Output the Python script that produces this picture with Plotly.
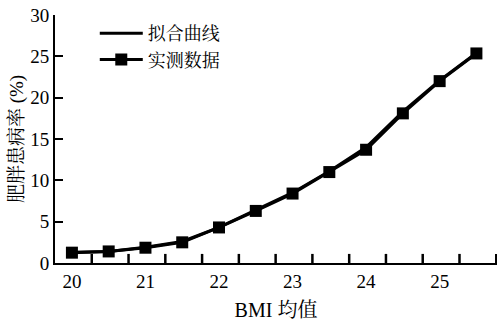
import plotly.graph_objects as go

bmi = [20, 20.5, 21, 21.5, 22, 22.5, 23, 23.5, 24, 24.5, 25, 25.5]
fitted = [1.3, 1.4, 1.9, 2.6, 4.3, 6.4, 8.5, 11.1, 14.0, 18.3, 22.1, 25.4]
measured = [1.25, 1.4, 1.85, 2.5, 4.3, 6.3, 8.4, 11.0, 13.7, 18.1, 22.0, 25.35]
x_ticks = [20, 21, 22, 23, 24, 25]
y_ticks = [0, 5, 10, 15, 20, 25, 30]
x_mark_ticks = [20.27, 20.77, 21.27, 21.77, 22.27, 22.77, 23.27, 23.77, 24.27, 24.77, 25.27, 25.77]
tick_mark_len = 1.1

serif = "'Liberation Serif', 'Noto Serif CJK SC', 'Noto Sans CJK SC', serif"
x_range = [19.77, 25.78]

fig = go.Figure()
fig.add_trace(go.Scatter(x=bmi, y=fitted, mode="lines", name="拟合曲线",
                         line=dict(color="black", width=3)))
fig.add_trace(go.Scatter(x=bmi, y=measured, mode="lines+markers", name="实测数据",
                         line=dict(color="black", width=3),
                         marker=dict(symbol="square", size=12, color="black")))

# x-axis tick marks, offset from the labels as in the original figure
for v in x_mark_ticks:
    fig.add_shape(type="line", xref="x", yref="y", x0=v, x1=v,
                  y0=y_ticks[0], y1=y_ticks[0] + tick_mark_len,
                  line=dict(color="black", width=2.5), layer="above")

fig.update_layout(
    width=498, height=321,
    margin=dict(l=55, r=1, t=15, b=58),
    paper_bgcolor="white", plot_bgcolor="white",
    font=dict(family=serif, size=19, color="black"),
    showlegend=True,
    legend=dict(x=0.09, y=1.0, xanchor="left", yanchor="top",
                bgcolor="rgba(0,0,0,0)", itemwidth=43,
                font=dict(family=serif, size=18, color="black"),
                tracegroupgap=4),
    xaxis=dict(range=x_range, tickmode="array", tickvals=x_ticks,
               ticks="", showgrid=False, zeroline=False,
               showline=True, linecolor="black", linewidth=2,
               tickfont=dict(family=serif, size=19),
               title=dict(text="BMI 均值", font=dict(family=serif, size=20), standoff=14)),
    yaxis=dict(range=[0, 30], tickmode="array", tickvals=y_ticks,
               ticks="inside", ticklen=8, tickwidth=2, tickcolor="black",
               showgrid=False, zeroline=False,
               showline=True, linecolor="black", linewidth=2,
               tickfont=dict(family=serif, size=19),
               title=dict(text="肥胖患病率 (%)", font=dict(family=serif, size=19), standoff=2)),
)

fig.write_html("out.html", config={"displayModeBar": False},
               post_script="document.body.style.margin='0';document.body.style.padding='0';")
